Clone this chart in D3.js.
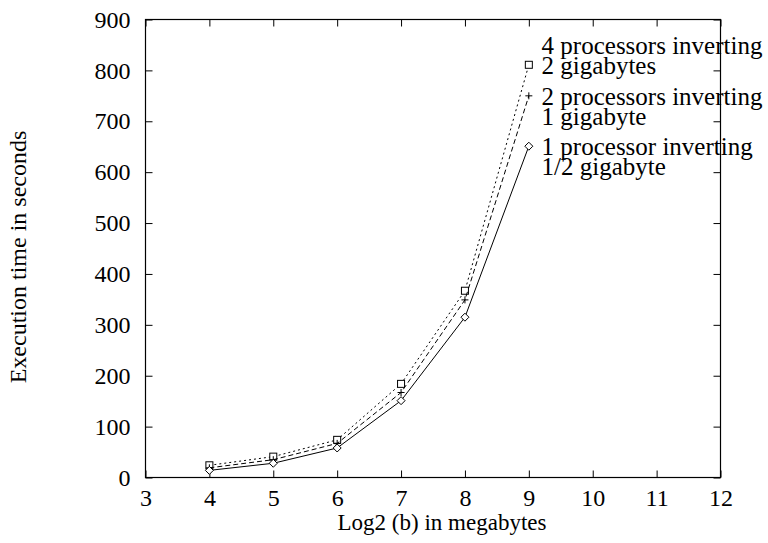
<!DOCTYPE html>
<html>
<head>
<meta charset="utf-8">
<script src="https://cdn.jsdelivr.net/npm/d3@7"></script>
<style>
  html, body { margin: 0; padding: 0; background: #fff; }
  svg { display: block; }
  text { font-family: "Liberation Serif", "Times New Roman", serif; fill: #000; }
</style>
</head>
<body>
<svg id="chart" width="768" height="543"></svg>
<script>
// Execution time (s) against log2 of block size (MB)
const xValues = [4, 5, 6, 7, 8, 9];
const fourProc = [24, 41, 74, 184, 367, 811];
const twoProc = [19, 35, 67, 167, 349, 750];
const oneProc = [14, 28, 58, 151, 315, 651];

const xTicks = [3, 4, 5, 6, 7, 8, 9, 10, 11, 12];
const yTicks = [0, 100, 200, 300, 400, 500, 600, 700, 800, 900];

const seriesNames = [
  ["4 processors inverting", "2 gigabytes"],
  ["2 processors inverting", "1 gigabyte"],
  ["1 processor inverting", "1/2 gigabyte"]
];
// Label anchors in data coordinates (x, y)
const labelX = 9.2;
const labelY = [830, 730, 630];

const svg = d3.select("#chart");
const plotL = 145.5, plotR = 720.5, plotT = 19.5, plotB = 477.5;

const x = d3.scaleLinear().domain([3, 12]).range([plotL, plotR]);
const y = d3.scaleLinear().domain([0, 900]).range([plotB, plotT]);

const tickLen = 7;
const fontSize = 24;
const serif = "'Liberation Serif', 'Times New Roman', serif";

// Ticks pointing inward on all four sides
const g = svg.append("g");
g.append("g").attr("transform", `translate(0,${plotB})`)
  .call(d3.axisBottom(x).tickValues(xTicks).tickSize(-tickLen).tickPadding(11).tickFormat(d3.format("d")));
g.append("g").attr("transform", `translate(0,${plotT})`)
  .call(d3.axisTop(x).tickValues(xTicks).tickSize(-tickLen).tickFormat(""));
g.append("g").attr("transform", `translate(${plotL},0)`)
  .call(d3.axisLeft(y).tickValues(yTicks).tickSize(-tickLen).tickPadding(15).tickFormat(d3.format("d")));
g.append("g").attr("transform", `translate(${plotR},0)`)
  .call(d3.axisRight(y).tickValues(yTicks).tickSize(-tickLen).tickFormat(""));

g.selectAll("g").attr("font-family", serif).attr("font-size", fontSize);
g.selectAll(".domain").remove();
g.selectAll(".tick line").attr("stroke", "#000").attr("stroke-width", 1);

// Frame
svg.append("rect")
  .attr("x", plotL).attr("y", plotT)
  .attr("width", plotR - plotL).attr("height", plotB - plotT)
  .attr("fill", "none").attr("stroke", "#000").attr("stroke-width", 1.2);

// Axis titles
svg.append("text")
  .attr("x", 442).attr("y", 530)
  .attr("text-anchor", "middle").style("font-size", "23px")
  .text("Log2 (b) in megabytes");
svg.append("text")
  .attr("transform", `translate(26,257) rotate(-90)`)
  .attr("text-anchor", "middle").style("font-size", fontSize + "px")
  .text("Execution time in seconds");

const line = d3.line().x((d, i) => x(xValues[i])).y(d => y(d));

const series = [
  { values: fourProc, dash: "2,3", marker: "square" },
  { values: twoProc, dash: "5,3", marker: "plus" },
  { values: oneProc, dash: null, marker: "diamond" }
];

series.forEach((s, si) => {
  svg.append("path")
    .datum(s.values)
    .attr("d", line)
    .attr("fill", "none")
    .attr("stroke", "#000")
    .attr("stroke-width", 1)
    .attr("stroke-dasharray", s.dash);

  const m = svg.append("g");
  s.values.forEach((v, i) => {
    const cx = x(xValues[i]), cy = y(v);
    if (s.marker === "square") {
      m.append("rect").attr("x", cx - 3.5).attr("y", cy - 3.5)
        .attr("width", 7).attr("height", 7)
        .attr("fill", "#fff").attr("stroke", "#000").attr("stroke-width", 1);
    } else if (s.marker === "plus") {
      m.append("path").attr("d", `M${cx - 3.5},${cy}H${cx + 3.5}M${cx},${cy - 3.5}V${cy + 3.5}`)
        .attr("stroke", "#000").attr("stroke-width", 1);
    } else {
      m.append("path").attr("d", `M${cx},${cy - 4}L${cx + 4},${cy}L${cx},${cy + 4}L${cx - 4},${cy}Z`)
        .attr("fill", "#fff").attr("stroke", "#000").attr("stroke-width", 1);
    }
  });

  // Two-line label, vertically centred on its anchor
  const lx = x(labelX);
  const ly = y(labelY[si]);
  const t = svg.append("text").style("font-size", "25px");
  t.append("tspan").attr("x", lx).attr("y", ly - 1.5).text(seriesNames[si][0]);
  t.append("tspan").attr("x", lx).attr("y", ly + 18.5).text(seriesNames[si][1]);
});
</script>
</body>
</html>
